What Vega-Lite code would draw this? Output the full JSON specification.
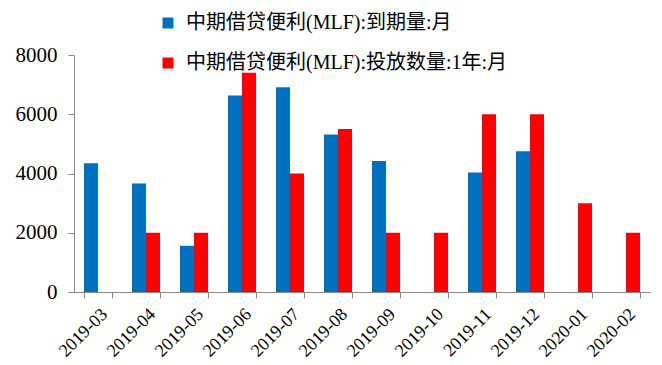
{
  "$schema": "https://vega.github.io/schema/vega-lite/v6.json",
  "autosize": {"type": "none"},
  "padding": {"left": 74, "top": 55, "right": 12, "bottom": 73},
  "width": 576,
  "height": 237,
  "background": "white",
  "config": {
    "view": {"stroke": null},
    "font": "Liberation Serif, Noto Sans CJK SC"
  },
  "data": {
    "values": [
      {"month": "2019-03", "series": "中期借贷便利(MLF):到期量:月", "value": 4345},
      {"month": "2019-04", "series": "中期借贷便利(MLF):到期量:月", "value": 3665},
      {"month": "2019-04", "series": "中期借贷便利(MLF):投放数量:1年:月", "value": 2000},
      {"month": "2019-05", "series": "中期借贷便利(MLF):到期量:月", "value": 1560},
      {"month": "2019-05", "series": "中期借贷便利(MLF):投放数量:1年:月", "value": 2000},
      {"month": "2019-06", "series": "中期借贷便利(MLF):到期量:月", "value": 6635},
      {"month": "2019-06", "series": "中期借贷便利(MLF):投放数量:1年:月", "value": 7400},
      {"month": "2019-07", "series": "中期借贷便利(MLF):到期量:月", "value": 6910},
      {"month": "2019-07", "series": "中期借贷便利(MLF):投放数量:1年:月", "value": 4000},
      {"month": "2019-08", "series": "中期借贷便利(MLF):到期量:月", "value": 5320},
      {"month": "2019-08", "series": "中期借贷便利(MLF):投放数量:1年:月", "value": 5500},
      {"month": "2019-09", "series": "中期借贷便利(MLF):到期量:月", "value": 4420},
      {"month": "2019-09", "series": "中期借贷便利(MLF):投放数量:1年:月", "value": 2000},
      {"month": "2019-10", "series": "中期借贷便利(MLF):投放数量:1年:月", "value": 2000},
      {"month": "2019-11", "series": "中期借贷便利(MLF):到期量:月", "value": 4035},
      {"month": "2019-11", "series": "中期借贷便利(MLF):投放数量:1年:月", "value": 6000},
      {"month": "2019-12", "series": "中期借贷便利(MLF):到期量:月", "value": 4750},
      {"month": "2019-12", "series": "中期借贷便利(MLF):投放数量:1年:月", "value": 6000},
      {"month": "2020-01", "series": "中期借贷便利(MLF):投放数量:1年:月", "value": 3000},
      {"month": "2020-02", "series": "中期借贷便利(MLF):投放数量:1年:月", "value": 2000}
    ]
  },
  "mark": {"type": "bar"},
  "encoding": {
    "x": {
      "field": "month",
      "type": "nominal",
      "sort": null,
      "scale": {"paddingInner": 0.4167, "paddingOuter": 0.2083},
      "axis": {
        "title": null,
        "labelAngle": -45,
        "labelFontSize": 18,
        "labelColor": "#000000",
        "labelFont": "Liberation Serif",
        "tickBand": "extent",
        "tickColor": "#888888",
        "domainColor": "#888888",
        "tickSize": 6,
        "labelPadding": 7
      }
    },
    "xOffset": {
      "field": "series",
      "type": "nominal",
      "scale": {"domain": ["中期借贷便利(MLF):到期量:月", "中期借贷便利(MLF):投放数量:1年:月"]}
    },
    "y": {
      "field": "value",
      "type": "quantitative",
      "scale": {"domain": [0, 8000], "nice": false},
      "axis": {
        "title": null,
        "values": [0, 2000, 4000, 6000, 8000],
        "format": "d",
        "grid": false,
        "labelFontSize": 21,
        "labelColor": "#000000",
        "labelFont": "Liberation Serif",
        "tickColor": "#888888",
        "domainColor": "#888888",
        "tickSize": 6,
        "labelPadding": 11
      }
    },
    "color": {
      "field": "series",
      "type": "nominal",
      "scale": {
        "domain": ["中期借贷便利(MLF):到期量:月", "中期借贷便利(MLF):投放数量:1年:月"],
        "range": ["#0070C0", "#FF0000"]
      },
      "legend": {
        "title": null,
        "orient": "none",
        "legendX": 84,
        "legendY": -42,
        "symbolType": "square",
        "symbolSize": 121,
        "symbolStrokeWidth": 0,
        "labelFontSize": 20,
        "labelColor": "#000000",
        "labelFont": "Liberation Serif, Noto Sans CJK SC",
        "labelLimit": 400,
        "rowPadding": 20,
        "labelOffset": 8,
        "padding": 0
      }
    }
  }
}
